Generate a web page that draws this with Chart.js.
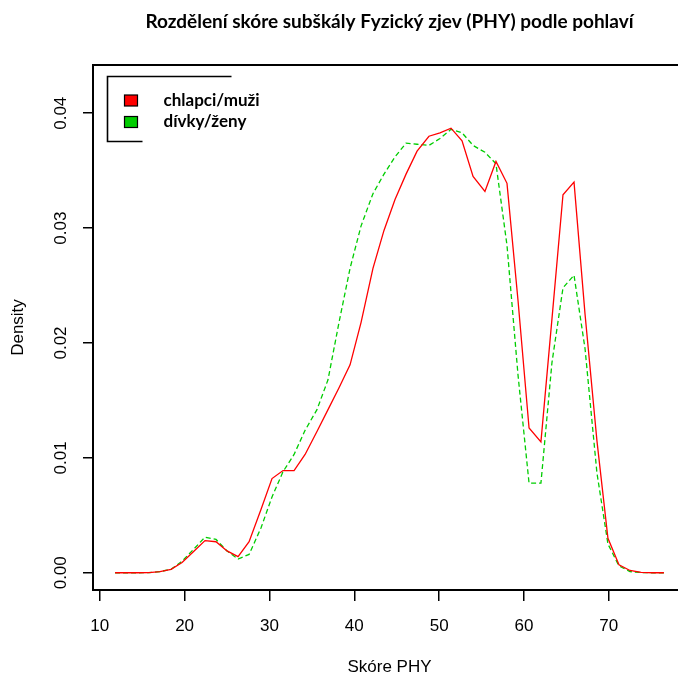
<!DOCTYPE html>
<html>
<head>
<meta charset="utf-8">
<title>Rozdělení skóre subškály Fyzický zjev (PHY) podle pohlaví</title>
<script src="https://cdn.jsdelivr.net/npm/chart.js@4/dist/chart.umd.min.js"></script>
<style>
    html, body { margin: 0; padding: 0; background: #fff; overflow: hidden; }
    #wrap { width: 678px; height: 680px; overflow: hidden; position: relative; }
    #densityChart { position: absolute; left: 0; top: 0; }
</style>
</head>
<body>
<div id="wrap">
    <canvas id="densityChart" width="700" height="680"></canvas>
</div>
<script>
// density estimate evaluated on a grid of PHY scores
const scores = [11.8, 13.1, 14.4, 15.8, 17.1, 18.4, 19.7, 21.0, 22.4, 23.7,
                25.0, 26.3, 27.6, 29.0, 30.3, 31.6, 32.9, 34.2, 35.6, 36.9,
                38.2, 39.5, 40.8, 42.2, 43.5, 44.8, 46.1, 47.4, 48.8, 50.1,
                51.4, 52.7, 54.0, 55.4, 56.7, 58.0, 59.3, 60.6, 62.0, 63.3,
                64.6, 65.9, 67.2, 68.6, 69.9, 71.2, 72.5, 73.8, 75.2, 76.5];

const boysDensity = [0, 0, 0, 0.00002, 0.0001, 0.0003, 0.0009, 0.0018, 0.0028, 0.0027,
                     0.0019, 0.0014, 0.0027, 0.0055, 0.0082, 0.0089, 0.0089, 0.0103, 0.0123, 0.0142,
                     0.0161, 0.0181, 0.0218, 0.0265, 0.0298, 0.0325, 0.0347, 0.0367, 0.0380, 0.0383,
                     0.0387, 0.0376, 0.0345, 0.0332, 0.0358, 0.0339, 0.0237, 0.0126, 0.0114, 0.0221,
                     0.0329, 0.0340, 0.0225, 0.0115, 0.0030, 0.0007, 0.0002, 0.00003, 0, 0];

const girlsDensity = [0, 0, 0, 0.00002, 0.0001, 0.0003, 0.0010, 0.0020, 0.0031, 0.0029,
                      0.0019, 0.0012, 0.0016, 0.0039, 0.0066, 0.0088, 0.0103, 0.0124, 0.0142, 0.0168,
                      0.0218, 0.0265, 0.0302, 0.0330, 0.0347, 0.0362, 0.0374, 0.0373, 0.0372, 0.0378,
                      0.0386, 0.0383, 0.0372, 0.0366, 0.0356, 0.0285, 0.0172, 0.0078, 0.0078, 0.0183,
                      0.0248, 0.0259, 0.0195, 0.0087, 0.0025, 0.0006, 0.0001, 0.00002, 0, 0];

const seriesLabels = ['chlapci/muži', 'dívky/ženy'];
const xTickValues = [10, 20, 30, 40, 50, 60, 70];
const yTickValues = [0, 0.01, 0.02, 0.03, 0.04];

const toPoints = (ys) => ys.map((y, i) => ({ x: scores[i], y: y }));

// R-style frame; the right side falls outside the picture
const plotFrame = {
    id: 'plotFrame',
    afterDraw(chart) {
        const { ctx, chartArea } = chart;
        ctx.save();
        ctx.strokeStyle = '#000';
        ctx.lineWidth = 2;
        ctx.beginPath();
        ctx.moveTo(chart.width + 5, chartArea.top);
        ctx.lineTo(chartArea.left, chartArea.top);
        ctx.lineTo(chartArea.left, chartArea.bottom);
        ctx.lineTo(chart.width + 5, chartArea.bottom);
        ctx.stroke();
        ctx.restore();
    }
};

// legend drawn like R's legend() (box partly clipped)
const rLegend = {
    id: 'rLegend',
    afterDraw(chart) {
        const { ctx, chartArea } = chart;
        const x0 = chartArea.left + 14.5;
        const y0 = chartArea.top + 11.5;
        ctx.save();
        ctx.strokeStyle = '#000';
        ctx.lineWidth = 1.6;
        ctx.beginPath();
        ctx.moveTo(x0 + 124, y0);
        ctx.lineTo(x0, y0);
        ctx.lineTo(x0, y0 + 65);
        ctx.lineTo(x0 + 35, y0 + 65);
        ctx.stroke();

        ctx.font = 'bold 17px Lato';
        ctx.textBaseline = 'middle';
        ctx.textAlign = 'left';
        chart.data.datasets.forEach((ds, i) => {
            const cy = y0 + 24 + i * 21.5;
            ctx.fillStyle = ds.fillSwatch;
            ctx.fillRect(x0 + 17, cy - 5.5, 13, 11);
            ctx.lineWidth = 1.2;
            ctx.strokeRect(x0 + 17, cy - 5.5, 13, 11);
            ctx.fillStyle = '#000';
            ctx.fillText(ds.label, x0 + 56, cy);
        });
        ctx.restore();
    }
};

const tickFont = { family: 'Liberation Sans', size: 17 };

new Chart(document.getElementById('densityChart'), {
    type: 'line',
    data: {
        datasets: [{
            label: seriesLabels[0],
            data: toPoints(boysDensity),
            borderColor: '#ff0000',
            fillSwatch: '#ff0000',
            borderWidth: 1.3,
            pointRadius: 0,
            tension: 0
        }, {
            label: seriesLabels[1],
            data: toPoints(girlsDensity),
            borderColor: '#00cd00',
            fillSwatch: '#00cd00',
            borderWidth: 1.3,
            borderDash: [5, 3],
            pointRadius: 0,
            tension: 0
        }]
    },
    options: {
        responsive: false,
        animation: false,
        layout: { padding: { left: 0, right: 14, top: 0, bottom: 0 } },
        plugins: {
            legend: { display: false },
            tooltip: { enabled: false },
            title: {
                display: true,
                text: 'Rozdělení skóre subškály Fyzický zjev (PHY) podle pohlaví',
                fullSize: false,
                color: '#000',
                font: { family: 'Lato', size: 19, weight: 'bold' },
                padding: { top: 10, bottom: 32.2 }
            }
        },
        scales: {
            x: {
                type: 'linear',
                min: 9.2,
                max: 79.1,
                afterBuildTicks: (scale) => { scale.ticks = xTickValues.map(v => ({ value: v })); },
                afterFit: (scale) => { scale.height = 90; },
                ticks: { color: '#000', font: tickFont, padding: 15, maxRotation: 0 },
                grid: { drawOnChartArea: false, drawTicks: true, tickLength: 11, color: '#000', lineWidth: 1.5 },
                border: { display: false },
                title: {
                    display: true,
                    text: 'Skóre PHY',
                    color: '#000',
                    font: tickFont,
                    padding: { top: 0, bottom: 2 }
                }
            },
            y: {
                type: 'linear',
                min: -0.0015,
                max: 0.0442,
                afterBuildTicks: (scale) => { scale.ticks = yTickValues.map(v => ({ value: v })); },
                afterFit: (scale) => { scale.width = 93; },
                ticks: {
                    color: '#000',
                    font: tickFont,
                    padding: 5,
                    minRotation: 90,
                    maxRotation: 90,
                    crossAlign: 'center',
                    callback: (value) => value.toFixed(2)
                },
                grid: { drawOnChartArea: false, drawTicks: true, tickLength: 10, color: '#000', lineWidth: 1.5 },
                border: { display: false },
                title: {
                    display: true,
                    text: 'Density',
                    color: '#000',
                    font: tickFont,
                    padding: { top: 8, bottom: 0 }
                }
            }
        }
    },
    plugins: [plotFrame, rLegend]
});
</script>
</body>
</html>
